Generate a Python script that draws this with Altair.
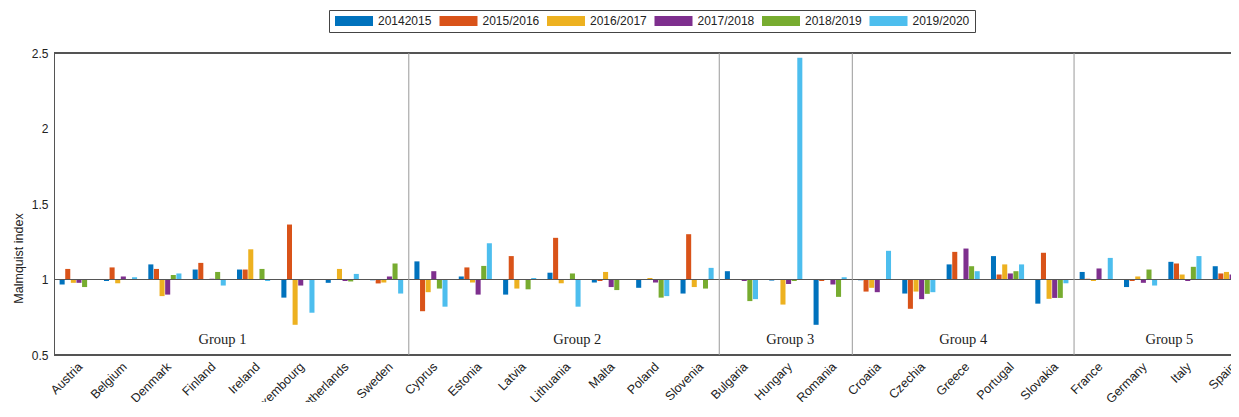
import altair as alt
import pandas as pd

countries = ["Austria", "Belgium", "Denmark", "Finland", "Ireland", "Luxembourg", "Netherlands", "Sweden",
             "Cyprus", "Estonia", "Latvia", "Lithuania", "Malta", "Poland", "Slovenia",
             "Bulgaria", "Hungary", "Romania",
             "Croatia", "Czechia", "Greece", "Portugal", "Slovakia",
             "France", "Germany", "Italy", "Spain"]
group_names = ["Group 1", "Group 2", "Group 3", "Group 4", "Group 5"]
group_sizes = [8, 7, 3, 5, 4]

seasons = ["20142015", "2015/2016", "2016/2017", "2017/2018", "2018/2019", "2019/2020"]

v_2014_2015 = [0.967, 0.99, 1.10, 1.066, 1.066, 0.88, 0.978, 0.995,
               1.12, 1.02, 0.90, 1.045, 0.98, 0.945, 0.907,
               1.055, 0.993, 0.70,
               0.995, 0.907, 1.10, 1.155, 0.84,
               1.05, 0.95, 1.117, 1.088]
v_2015_2016 = [1.07, 1.08, 1.07, 1.11, 1.066, 1.364, 1.0, 0.974,
               0.79, 1.08, 1.155, 1.276, 0.99, 1.0, 1.30,
               1.0, 0.997, 0.99,
               0.92, 0.806, 1.183, 1.033, 1.177,
               1.005, 0.99, 1.106, 1.04]
v_2016_2017 = [0.978, 0.975, 0.89, 1.0, 1.20, 0.70, 1.07, 0.98,
               0.916, 0.98, 0.94, 0.975, 1.05, 1.01, 0.95,
               1.0, 0.834, 1.0,
               0.945, 0.92, 1.0, 1.10, 0.872,
               0.99, 1.02, 1.033, 1.05]
v_2017_2018 = [0.978, 1.02, 0.90, 1.005, 1.0, 0.96, 0.99, 1.02,
               1.055, 0.90, 1.0, 1.0, 0.95, 0.98, 1.0,
               0.99, 0.97, 0.967,
               0.916, 0.87, 1.205, 1.04, 0.878,
               1.073, 0.978, 0.99, 1.033]
v_2018_2019 = [0.95, 1.0, 1.03, 1.05, 1.07, 1.0, 0.987, 1.106,
               0.94, 1.09, 0.935, 1.04, 0.93, 0.88, 0.94,
               0.857, 0.99, 0.885,
               1.0, 0.905, 1.088, 1.055, 0.878,
               1.0, 1.066, 1.084, 1.02]
v_2019_2020 = [1.0, 1.015, 1.04, 0.96, 0.99, 0.78, 1.037, 0.907,
               0.82, 1.24, 1.01, 0.82, 1.0, 0.89, 1.077,
               0.87, 2.468, 1.015,
               1.19, 0.916, 1.055, 1.10, 0.975,
               1.143, 0.96, 1.155, 1.01]

colors = ["#0072BD", "#D95319", "#EDB120", "#7E2F8E", "#77AC30", "#4DBEEE"]

series = [v_2014_2015, v_2015_2016, v_2016_2017, v_2017_2018, v_2018_2019, v_2019_2020]
rows = []
for s, vals in zip(seasons, series):
    for c, v in zip(countries, vals):
        rows.append({"country": c, "season": s, "value": v})
df = pd.DataFrame(rows)

# group boundaries / label anchors
first_of_group = []
idx = 0
for n in group_sizes:
    first_of_group.append(countries[idx])
    idx += n
sep_df = pd.DataFrame({"country": first_of_group[1:]})

STEP = 44.35
W = 1177
H = 302
FONT = "Liberation Sans"

xscale = alt.Scale(domain=countries, range=[0, STEP * len(countries)], paddingInner=0, paddingOuter=0)
yscale = alt.Scale(domain=[0.5, 2.5], nice=False, zero=False)

bars = alt.Chart(df).mark_bar(clip=True).encode(
    x=alt.X("country:N", sort=countries, scale=xscale,
            axis=alt.Axis(title=None, labelAngle=-45, labelAlign="right", labelBaseline="top",
                          labelFont=FONT, labelFontSize=12.5, labelColor="#222", ticks=False,
                          domain=False, labelPadding=5, labelOverlap=False)),
    xOffset=alt.XOffset("season:N", sort=seasons, scale=alt.Scale(paddingInner=0.1, paddingOuter=1.0)),
    y=alt.Y("value:Q", scale=yscale,
            axis=alt.Axis(values=[0.5, 1, 1.5, 2, 2.5], format="~g", grid=False, ticks=False,
                          title="Malmquist index", titleFont=FONT, titleFontSize=12.5,
                          titleFontWeight="normal", titleColor="#222", labelFont=FONT,
                          labelFontSize=12, labelColor="#222", labelPadding=6, titlePadding=6,
                          titleY=205, domainColor="#555")),
    y2=alt.datum(1),
    color=alt.Color("season:N", sort=seasons, scale=alt.Scale(domain=seasons, range=colors),
                    legend=alt.Legend(title=None, orient="none", legendX=275, legendY=-43,
                                      direction="horizontal", symbolType="M-1,-1H6.6V1H-1Z",
                                      symbolSize=100, symbolStrokeWidth=0, symbolOpacity=1,
                                      labelFont=FONT, labelFontSize=12, labelColor="#222",
                                      labelOffset=32, columnPadding=6.5, padding=5,
                                      strokeColor="#444", fillColor="white")),
)

base_rule = alt.Chart(df).mark_rule(color="#555", strokeWidth=1).encode(y=alt.datum(1))
top_rule = alt.Chart(df).mark_rule(color="#555", strokeWidth=1).encode(y=alt.datum(2.5))
bottom_rule = alt.Chart(df).mark_rule(color="#555", strokeWidth=1).encode(y=alt.datum(0.5))

seps = alt.Chart(sep_df).mark_rule(color="#999", strokeWidth=1).encode(
    x=alt.X("country:N", sort=countries, scale=xscale, bandPosition=0)
)

# group labels, anchored on a country of the group
anchors = [("Finland", 0.8), ("Lithuania", 0.8), ("Hungary", 0.6), ("Greece", 0.5), ("Italy", 0.15)]
texts = []
for name, (anchor, bp) in zip(group_names, anchors):
    tdf = pd.DataFrame({"country": [anchor], "label": [name]})
    texts.append(
        alt.Chart(tdf).mark_text(font="Liberation Serif", fontSize=14.5, color="#222", baseline="middle").encode(
            x=alt.X("country:N", sort=countries, scale=xscale, bandPosition=bp),
            y=alt.datum(0.6),
            text="label:N",
        )
    )

chart = alt.layer(bars, base_rule, top_rule, bottom_rule, seps, *texts).properties(
    width=W, height=H,
    autosize=alt.AutoSizeParams(type="none"),
    padding={"left": 46, "top": 45, "right": 0, "bottom": 47},
).configure_view(stroke=None)

chart.save("out.html", embed_options={"renderer": "svg", "actions": False})
